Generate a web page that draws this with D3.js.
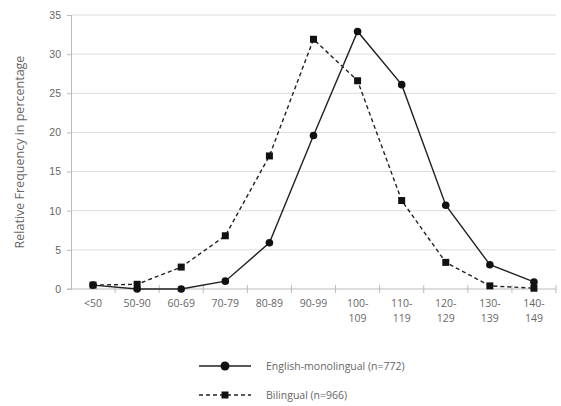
<!DOCTYPE html>
<html>
<head>
<meta charset="utf-8">
<script src="https://cdn.jsdelivr.net/npm/d3@7"></script>
<style>
  body { margin: 0; background: #fff; }
  svg { font-family: "Open Sans", "Noto Sans", sans-serif; }
</style>
</head>
<body>
<div id="chart"></div>
<script>
// categories (IQ bands) and series values
var categories = ["<50", "50-90", "60-69", "70-79", "80-89", "90-99", "100-109", "110-119", "120-129", "130-139", "140-149"];
var englishValues = [0.5, 0.0, 0.0, 1.0, 5.9, 19.6, 32.9, 26.1, 10.7, 3.1, 0.9];
var bilingualValues = [0.5, 0.6, 2.8, 6.8, 17.0, 31.9, 26.6, 11.3, 3.4, 0.4, 0.1];
var yTicks = [0, 5, 10, 15, 20, 25, 30, 35];
var seriesNames = ["English-monolingual (n=772)", "Bilingual (n=966)"];

var width = 561, height = 406;
var margin = { top: 15, right: 5, bottom: 117, left: 71 };
var innerW = width - margin.left - margin.right,
	innerH = height - margin.top - margin.bottom;

var svg = d3.select("#chart").append("svg")
	.attr("width", width)
	.attr("height", height);

var g = svg.append("g")
	.attr("transform", `translate(${margin.left},${margin.top})`);

var x = d3.scaleBand()
	.domain(categories)
	.range([0, innerW]);

var y = d3.scaleLinear()
	.domain([0, 35])
	.range([innerH, 0]);

var textColor = "#666";
var axisColor = "#bbb";

// gridlines
g.append("g")
	.selectAll("line")
	.data(yTicks.filter(d => d > 0))
	.enter()
	.append("line")
	.attr("x1", 0)
	.attr("x2", innerW)
	.attr("y1", d => y(d))
	.attr("y2", d => y(d))
	.attr("stroke", "#dcdcdc")
	.attr("stroke-width", 1);

// y axis
var yAxis = d3.axisLeft(y)
	.tickValues(yTicks)
	.tickSize(4)
	.tickPadding(6);

var yG = g.append("g").call(yAxis);
yG.select(".domain").attr("stroke", axisColor);
yG.selectAll(".tick line").attr("stroke", axisColor);
yG.selectAll(".tick text")
	.attr("fill", textColor)
	.style("font-size", "10.5px");

// x axis: ticks at band edges
var xAxisG = g.append("g")
	.attr("transform", `translate(0,${innerH})`);

xAxisG.append("line")
	.attr("x1", -4)
	.attr("x2", innerW)
	.attr("stroke", axisColor);

var edges = categories.map(c => x(c)).concat([innerW]);
xAxisG.selectAll(".xtick")
	.data(edges.slice(1))
	.enter()
	.append("line")
	.attr("class", "xtick")
	.attr("x1", d => d)
	.attr("x2", d => d)
	.attr("y1", -4)
	.attr("y2", 4)
	.attr("stroke", axisColor);

// long labels wrap onto two lines ("100-" / "109"), one text per line
var labelLines = [];
categories.forEach(c => {
	var parts = c.length > 5 ? [c.split("-")[0] + "-", c.split("-")[1]] : [c];
	parts.forEach((p, i) => labelLines.push({ cat: c, text: p, line: i }));
});

xAxisG.selectAll(".xlabel")
	.data(labelLines)
	.enter()
	.append("text")
	.attr("class", "xlabel")
	.attr("text-anchor", "middle")
	.attr("fill", textColor)
	.style("font-size", "10.5px")
	.attr("x", d => x(d.cat) + x.bandwidth() / 2)
	.attr("y", d => 18 + d.line * 14.5)
	.text(d => d.text);

// y axis title
svg.append("text")
	.attr("transform", `translate(24,${margin.top + innerH / 2}) rotate(-90)`)
	.attr("text-anchor", "middle")
	.attr("fill", textColor)
	.style("font-size", "12.5px")
	.text("Relative Frequency in percentage");

// lines
var cx = d => x(d) + x.bandwidth() / 2;

var line = d3.line()
	.x((d, i) => cx(categories[i]))
	.y(d => y(d));

g.append("path")
	.datum(bilingualValues)
	.attr("fill", "none")
	.attr("stroke", "#222")
	.attr("stroke-width", 1.4)
	.attr("stroke-dasharray", "4,3")
	.attr("d", line);

g.append("path")
	.datum(englishValues)
	.attr("fill", "none")
	.attr("stroke", "#222")
	.attr("stroke-width", 1.4)
	.attr("d", line);

g.selectAll(".sq")
	.data(bilingualValues)
	.enter()
	.append("rect")
	.attr("class", "sq")
	.attr("x", (d, i) => cx(categories[i]) - 3.5)
	.attr("y", d => y(d) - 3.5)
	.attr("width", 7)
	.attr("height", 7)
	.attr("fill", "#111");

g.selectAll(".dot")
	.data(englishValues)
	.enter()
	.append("circle")
	.attr("class", "dot")
	.attr("cx", (d, i) => cx(categories[i]))
	.attr("cy", d => y(d))
	.attr("r", 3.8)
	.attr("fill", "#111");

// legend
var legend = svg.append("g");

var leg1 = legend.append("g").attr("transform", "translate(199,366)");
leg1.append("line")
	.attr("x1", 0).attr("x2", 52)
	.attr("stroke", "#222").attr("stroke-width", 1.6);
leg1.append("circle")
	.attr("cx", 26).attr("r", 4.5).attr("fill", "#111");
leg1.append("text")
	.attr("x", 67).attr("dy", "0.35em")
	.attr("fill", textColor)
	.style("font-size", "10.5px")
	.text(seriesNames[0]);

var leg2 = legend.append("g").attr("transform", "translate(199,395)");
leg2.append("line")
	.attr("x1", 0).attr("x2", 52)
	.attr("stroke", "#222").attr("stroke-width", 1.6)
	.attr("stroke-dasharray", "4,3");
leg2.append("rect")
	.attr("x", 22.5).attr("y", -3.5)
	.attr("width", 7).attr("height", 7)
	.attr("fill", "#111");
leg2.append("text")
	.attr("x", 67).attr("dy", "0.35em")
	.attr("fill", textColor)
	.style("font-size", "10.5px")
	.text(seriesNames[1]);
</script>
</body>
</html>
